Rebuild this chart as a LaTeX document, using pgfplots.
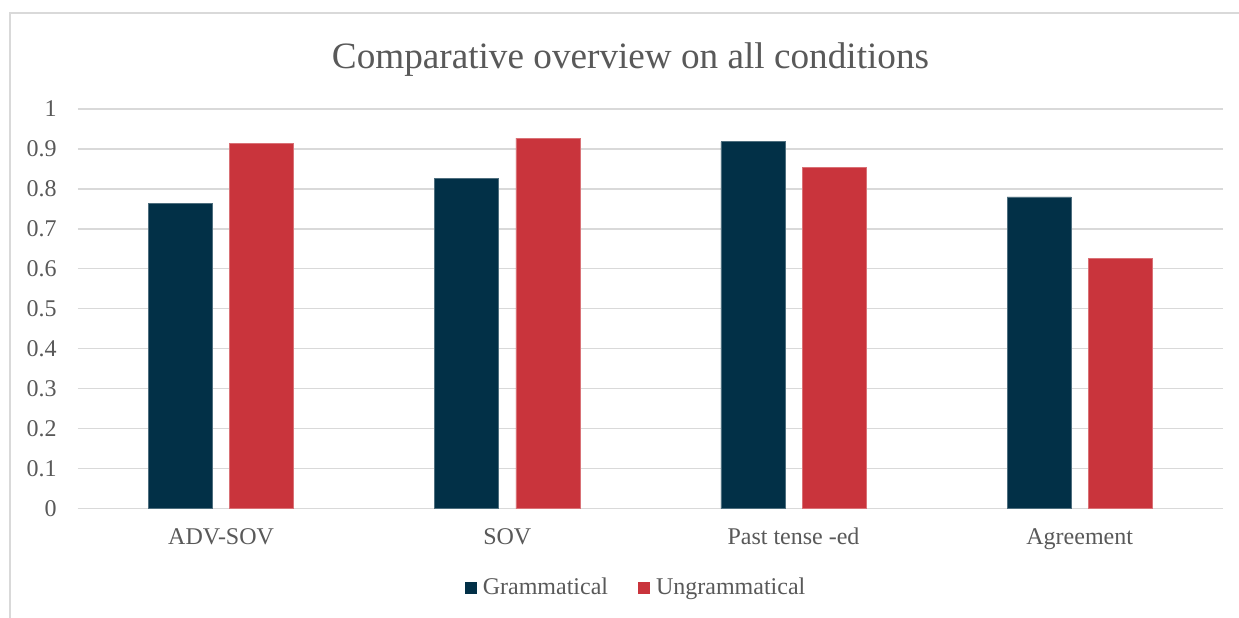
\documentclass[border=0pt]{standalone}
\usepackage{pgfplots}
\pgfplotsset{compat=1.18}
\usepackage{fontspec}
\setmainfont{Liberation Serif}
\definecolor{gdark}{RGB}{2,48,71}
\definecolor{gred}{RGB}{201,52,60}
\definecolor{txtgray}{RGB}{89,89,89}
\definecolor{gridgray}{RGB}{217,217,217}
\begin{document}
\begin{tikzpicture}
\useasboundingbox (0,0) rectangle (619.5pt,-308.5pt);
\clip (0,0) rectangle (619.5pt,-308.5pt);
\fill[white] (0,0) rectangle (619.5pt,-308.5pt);
\draw[gridgray, line width=0.7pt] (5pt,-6.5pt) rectangle (630pt,-320pt);
\node[anchor=base, text=txtgray, font=\fontsize{18.6}{22}\selectfont, inner sep=0pt] at (315.25pt,-34.15pt) {Comparative overview on all conditions};
\begin{axis}[
  at={(39pt,-254.25pt)}, anchor=south west,
  scale only axis, width=572.4pt, height=199.75pt,
  ybar, bar width=32pt,
  xmin=-0.5, xmax=3.5, ymin=0, ymax=1,
  xtick={0,1,2,3},
  xticklabels={ADV-SOV,SOV,Past tense -ed,Agreement},
  ytick={0,0.1,0.2,0.3,0.4,0.5,0.6,0.7,0.8,0.9,1},
  yticklabels={0,0.1,0.2,0.3,0.4,0.5,0.6,0.7,0.8,0.9,1},
  axis lines*=left,
  x axis line style={draw=gridgray, line width=0.65pt, -},
  y axis line style={draw=none},
  major tick length=0pt,
  tick style={draw=none},
  ymajorgrids, grid style={gridgray, line width=0.65pt},
  ticklabel style={text=txtgray, font=\fontsize{12}{14}\selectfont, inner sep=0pt},
  yticklabel style={anchor=east, xshift=-10.5pt},
  xticklabel style={anchor=base, yshift=-17.75pt},
  legend style={at={(0.4866,-0.199)}, anchor=center, draw=none, fill=none,
    inner sep=0pt, outer sep=0pt, legend columns=2,
    nodes={inner sep=0pt, text=txtgray, font=\fontsize{12}{14}\selectfont},
    column sep=3pt,
    /tikz/every even column/.append style={column sep=15pt}},
  legend image code/.code={\fill[#1, draw=none] (0pt,-3pt) rectangle (6pt,3pt);},
]
\addplot[fill=gdark, draw=gdark!70!white, line width=0.3pt, bar shift=-20.3pt] coordinates {(0,0.763) (1,0.827) (2,0.918) (3,0.780)};
\addplot[fill=gred, draw=gred!70!white, line width=0.3pt, bar shift=20.3pt] coordinates {(0,0.914) (1,0.927) (2,0.854) (3,0.626)};
\legend{Grammatical, Ungrammatical}
\end{axis}
\end{tikzpicture}
\end{document}
